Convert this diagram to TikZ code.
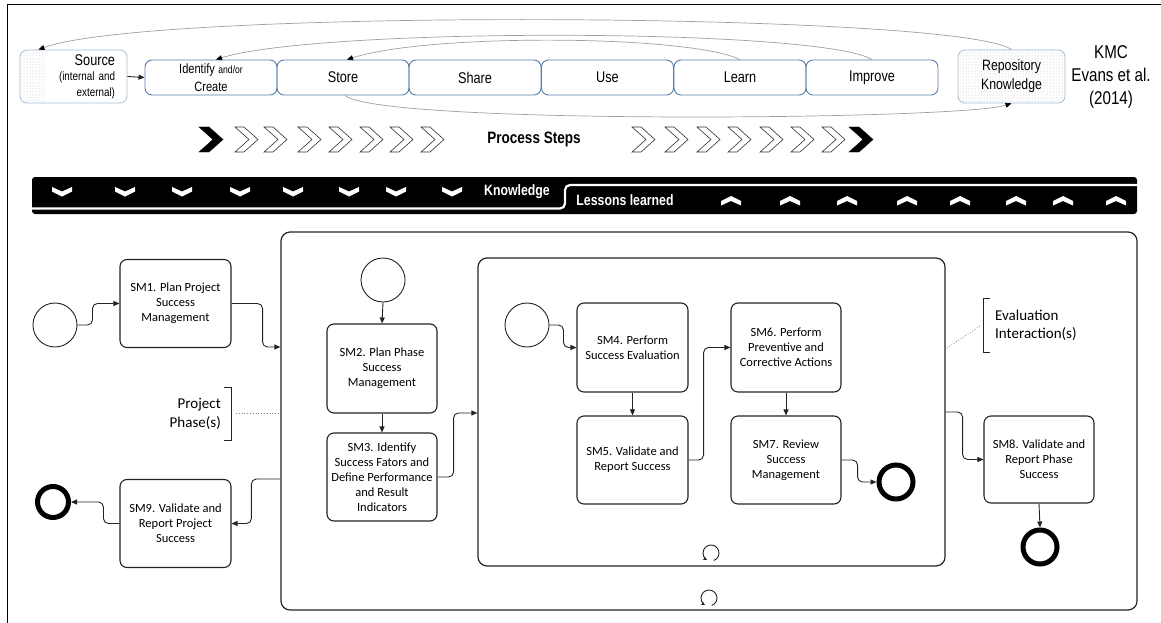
\documentclass[tikz,border=0pt]{standalone}
\usepackage{fontspec}
\setmainfont{Carlito}
\newfontfamily\narrow[FakeStretch=0.82]{Liberation Sans}
\usetikzlibrary{arrows.meta,patterns,calc}
\definecolor{kmcblue}{RGB}{84,124,170}
\definecolor{lightb}{RGB}{165,188,212}
\definecolor{bpmn}{RGB}{35,35,35}
\tikzset{
  kmcbox/.style={draw=kmcblue, line width=0.9pt, rounded corners=7pt, minimum width=132pt, minimum height=35pt, inner sep=0pt, align=center, font=\narrow\fontsize{15.5}{18}\selectfont},
  repbox/.style={draw=lightb, line width=0.8pt, rounded corners=7pt, minimum width=107pt, minimum height=53pt, inner sep=0pt},
  smbox/.style={draw=bpmn, line width=1.1pt, rounded corners=7pt, minimum width=111pt, minimum height=88pt, align=center, inner sep=1pt, font=\fontsize{12.5}{15}\selectfont},
  startev/.style={circle, draw=bpmn, line width=0.9pt, minimum size=44pt, inner sep=0pt},
  endev/.style={circle, draw=black, line width=5pt, minimum size=31pt, inner sep=0pt},
  flow/.style={draw=bpmn, line width=0.9pt, rounded corners=5pt, -{Triangle[length=6pt,width=5pt]}},
  container/.style={draw=bpmn, line width=1.2pt, rounded corners=9pt, inner sep=0pt},
  kmcflow/.style={draw=gray!75, line width=0.7pt, -{Triangle[length=6pt,width=5pt,color=black,fill=black]}},
  chevo/.style={draw=black!80, line width=0.6pt, fill=white},
  chevb/.style={fill=black},
  annot/.style={font=\fontsize{15}{18.5}\selectfont, inner sep=0pt},
  loopmark/.style={draw=bpmn, line width=0.9pt, -{Stealth[length=4pt,width=4pt]}}
}
\begin{document}
\begin{tikzpicture}[x=1pt,y=-1pt]
\useasboundingbox (0,0) rectangle (1161,623);
\draw[black, line width=1pt] (7,623) -- (7,5) -- (1161,5);

% ---------- KMC row ----------
\begin{scope}
  \clip (20,50) rectangle (45,103);
  \fill[pattern=dots, pattern color=gray!55, rounded corners=7pt] (20,50) rectangle (127,103);
\end{scope}
\node[repbox, text width=83pt, inner xsep=12pt, align=right, font=\narrow\fontsize{12}{15.5}\selectfont] (src) at (73.5,76.5)
  {{\fontsize{15.5}{15.5}\selectfont Source}\\(internal and\\external)};
\node[kmcbox] (ide) at (211,77.5) {{\fontsize{13.5}{16}\selectfont Identify} {\fontsize{10.5}{16}\selectfont and/or}\\{\fontsize{13.5}{16}\selectfont Create}};
\node[kmcbox] (sto) at (343,77.5) {Store};
\node[kmcbox] (sha) at (475,77.5) {Share};
\node[kmcbox] (use) at (607.5,77.5) {Use};
\node[kmcbox] (lea) at (740,77.5) {Learn};
\node[kmcbox] (imp) at (872,77.5) {Improve};
\node[repbox, pattern=dots, pattern color=gray!55, align=center, font=\narrow\fontsize{15}{19}\selectfont] (rep) at (1011.5,76.5) {Repository\\Knowledge};
\node[align=center, inner sep=0pt, font=\narrow\fontsize{18.5}{23}\selectfont] (kmc) at (1111,77) {KMC\\Evans et al.\\(2014)};

\draw[draw=bpmn, line width=0.9pt, -{Triangle[length=6pt,width=5pt]}] (src.east) -- (ide.west);
\draw[kmcflow] (rep.north) .. controls (960,12) and (150,8) .. ([xshift=-35pt]src.north);
\draw[kmcflow] (imp.north) .. controls (820,28) and (320,27) .. ([xshift=5pt]ide.north);
\draw[kmcflow] (lea.north) .. controls (690,35) and (430,33) .. ([xshift=4pt]sto.north);
\draw[kmcflow] ([xshift=2pt]sto.south) .. controls (380,125) and (960,120) .. (rep.south);

% ---------- Process steps ----------
\draw[chevb] (199,127) -- ++(10,0) -- ++(14,12.5) -- ++(-14,12.5) -- ++(-10,0) -- ++(14,-12.5) -- cycle;
\foreach \x in {235,264,298,329,360,390,421,632,665,697,728,760,791,822}
  \draw[chevo] (\x,127) -- ++(9,0) -- ++(14,12.5) -- ++(-14,12.5) -- ++(-9,0) -- ++(14,-12.5) -- cycle;
\draw[chevb] (849,127) -- ++(10,0) -- ++(14,12.5) -- ++(-14,12.5) -- ++(-10,0) -- ++(14,-12.5) -- cycle;
\node[font=\narrow\bfseries\fontsize{16.5}{20}\selectfont, inner sep=0pt] (ps) at (534,139) {Process Steps};

% ---------- Knowledge / lessons bar ----------
\fill[black, rounded corners=3pt] (32,177) rectangle (1137,214);
\draw[white, line width=2.2pt, rounded corners=5pt] (28,208.5) -- (565,208.5) -- (565,185) -- (1142,185);
\foreach \x in {62,125,182,240,293,349,396,452}
  \fill[white] (\x-10,187) -- (\x,191.5) -- (\x+10,187) -- (\x+10,191.5) -- (\x,196.5) -- (\x-10,191.5) -- cycle;
\foreach \x in {731,790,847,907,960,1016,1063,1116}
  \fill[white] (\x-10,201) -- (\x,196) -- (\x+10,201) -- (\x+10,205.5) -- (\x,201) -- (\x-10,205.5) -- cycle;
\node[white, font=\narrow\bfseries\fontsize{15}{18}\selectfont, inner sep=0pt] (kn) at (517,192) {Knowledge};
\node[white, font=\narrow\bfseries\fontsize{15}{18}\selectfont, inner sep=0pt] (ll) at (625,200.5) {Lessons learned};

% ---------- BPMN ----------
\node[container, minimum width=856pt, minimum height=378pt] (outer) at (709,421) {};
\node[container, minimum width=467pt, minimum height=308pt] (inner) at (711.5,412) {};

\node[startev] (st1) at (55,325) {};
\node[smbox] (sm1) at (175.5,303.5) {SM1. Plan Project\\Success\\Management};
\node[smbox] (sm9) at (175.5,523.5) {SM9. Validate and\\Report Project\\Success};
\node[endev] (en1) at (53,502) {};

\node[startev] (st2) at (383,280) {};
\node[smbox, minimum width=110pt, minimum height=89pt] (sm2) at (382,368.5) {SM2. Plan Phase\\Success\\Management};
\node[smbox, minimum width=110pt] (sm3) at (382,477) {SM3. Identify\\Success Fators and\\Define Performance\\and Result\\Indicators};

\node[startev] (st3) at (527,325) {};
\node[smbox, minimum height=89pt] (sm4) at (632.5,347.5) {SM4. Perform\\Success Evaluation};
\node[smbox] (sm5) at (632.5,460) {SM5. Validate and\\Report Success};
\node[smbox, minimum width=110pt, minimum height=89pt] (sm6) at (786,347.5) {SM6. Perform\\Preventive and\\Corrective Actions};
\node[smbox, minimum width=110pt] (sm7) at (786,460) {SM7. Review\\Success\\Management};
\node[endev, minimum size=34pt] (en3) at (896,482) {};

\node[smbox, minimum width=110pt, minimum height=87pt] (sm8) at (1039,459.5) {SM8. Validate and\\Report Phase\\Success};
\node[endev, minimum size=34pt] (en4) at (1040,547) {};

% connectors
\draw[flow] (st1.east) -- ++(15,0) |- (sm1.west);
\draw[flow] (sm1.east) -- ++(31,0) |- (outer.west |- 0,347);
\draw[flow] (outer.west |- 0,479) -- ++(-29,0) |- (sm9.east);
\draw[flow] (sm9.west) -- ++(-16,0) |- (en1.east);
\draw[flow] (st2.south) -- (sm2.north);
\draw[flow] (sm2.south) -- (sm3.north);
\draw[flow] (sm3.east) -- ++(16,0) |- (inner.west |- 0,413);
\draw[flow] (st3.east) -- ++(14,0) |- (sm4.west);
\draw[flow] (sm4.south) -- (sm5.north);
\draw[flow] (sm5.east) -- ++(15,0) |- (sm6.west);
\draw[flow] (sm6.south) -- (sm7.north);
\draw[flow] (sm7.east) -- ++(16,0) |- (en3.west);
\draw[flow] (inner.east |- 0,412) -- ++(17,0) |- (sm8.west);
\draw[flow] (sm8.south) -- (en4.north);

% annotations
\node[annot, align=right, anchor=east] (pp) at (221,414) {Project\\Phase(s)};
\coordinate (ppb) at (231,413);
\draw[bpmn, line width=0.8pt] (224,387) -- (231,387) -- (231,440) -- (224,440);
\draw[gray, line width=0.8pt, dotted] ([xshift=5pt]ppb) -- (outer.west |- ppb);

\node[annot, align=left, anchor=west] (ei) at (995,325.5) {Evaluation\\Interaction(s)};
\coordinate (eib) at (983,326);
\draw[bpmn, line width=0.8pt] (990,298) -- (983,298) -- (983,352) -- (990,352);
\draw[gray, line width=0.8pt, dotted] ([xshift=-3pt]eib) -- (inner.east |- 0,349);

% loop markers (open circle, arrow at lower left)
\draw[loopmark] (711,553) ++(70:8) arc[start angle=70, end angle=-240, radius=8];
\draw[loopmark] (709,598) ++(70:8) arc[start angle=70, end angle=-240, radius=8];
\end{tikzpicture}
\end{document}
